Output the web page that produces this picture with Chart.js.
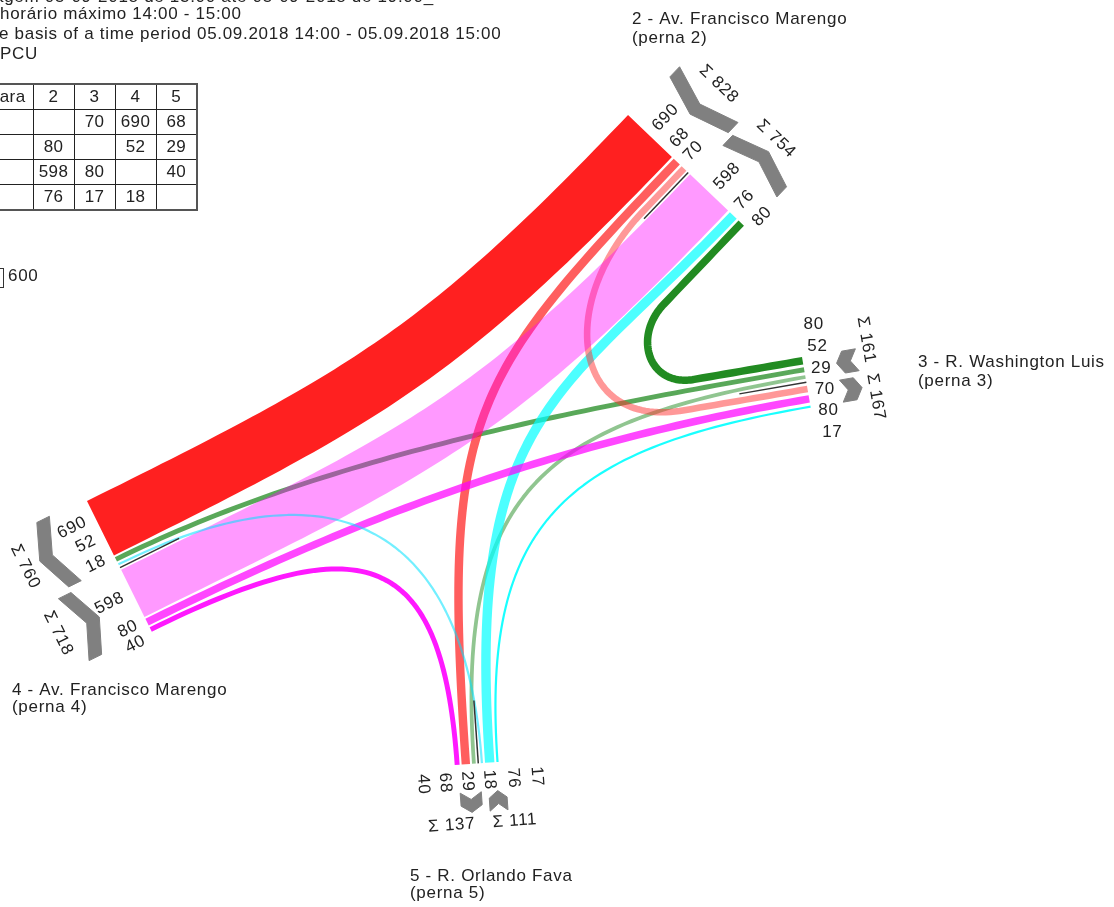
<!DOCTYPE html>
<html lang="pt">
<head>
<meta charset="utf-8">
<title>Fluxos de tráfego</title>
<script src="https://cdn.jsdelivr.net/npm/chart.js@4.4.1/dist/chart.umd.min.js"></script>
<style>
html,body{margin:0;padding:0;background:#fff;overflow:hidden}
#wrap{position:relative;width:1114px;height:907px;overflow:hidden;background:#fff}
#c{position:absolute;left:0;top:0}
.hl{position:absolute;font:17px "Liberation Sans",Arial,sans-serif;letter-spacing:0.7px;color:#222;white-space:nowrap;line-height:20px;height:20px}
#tbl{position:absolute;left:-49px;top:83px;width:245px;border-collapse:collapse;table-layout:fixed;font:17px "Liberation Sans",Arial,sans-serif;letter-spacing:0.4px;color:#222;border:2px solid #555}
#tbl td{border:1px solid #222;height:24px;padding:0;text-align:center;line-height:24px;white-space:nowrap;overflow:hidden}
#tbl td.lbl{text-align:left;padding-left:4px}
#tbl tr.h td.lbl{text-align:right;padding-right:7px;padding-left:0}
</style>
</head>
<body>
<div id="wrap">
<canvas id="c" width="1114" height="907"></canvas>
<div id="hdr"></div>
<table id="tbl"></table>
</div>
<script>
// ================= DATA =================
const legIds = ['2', '3', '4', '5'];
const legNames = ['2 - Av. Francisco Marengo', '3 - R. Washington Luis', '4 - Av. Francisco Marengo', '5 - R. Orlando Fava'];
const legSubs = ['(perna 2)', '(perna 3)', '(perna 4)', '(perna 5)'];
const tableHeader = ['De/Para', '2', '3', '4', '5'];
// volumes (PCU) from a leg (row) to legs 2,3,4,5 (columns)
const fromLeg2 = [null, 70, 690, 68];
const fromLeg3 = [80, null, 52, 29];
const fromLeg4 = [598, 80, null, 40];
const fromLeg5 = [76, 17, 18, null];
const scaleBarValue = 600;
const headerLines = [
  'agem 05-09-2018 de 13:00 até 05-09-2018 de 19:00_',
  'horário máximo 14:00 - 15:00',
  'e basis of a time period 05.09.2018 14:00 - 05.09.2018 15:00',
  'PCU'
];

const MATRIX = {'2': fromLeg2, '3': fromLeg3, '4': fromLeg4, '5': fromLeg5};
const vol = (o, d) => MATRIX[o][legIds.indexOf(d)];
const outSum = id => MATRIX[id].reduce((s, v) => s + (v || 0), 0);
const inSum = id => legIds.reduce((s, o) => s + (vol(o, id) || 0), 0);

// ================= LAYOUT =================
const norm = a => { const l = Math.hypot(a[0], a[1]); return [a[0] / l, a[1] / l]; };
const ang = a => Math.atan2(a[1], a[0]);
const LEG = {
  '2': {P: [628, 115], u: norm([0.723, 0.690]), d: norm([0.690, -0.723]), k: 0.088, gap: 2.5, med: 5, medLen: 64,
        groupTypes: ['from', 'to'], labelU: [29, 53, 72, 114, 143, 167], labelD: 9, labelFlip: false, labelAlign: 'left',
        sigmaU: [44.4, 123.6], sigmaD: 85, chev: {near: 50.5, far: 63.5, w: 14, shift: [4, 4]}, name: [632, 24, 43]},
  '3': {P: [802, 357], u: norm([0.17, 0.985]), d: norm([0.985, -0.17]), k: 0.1, gap: 3, med: 7, medLen: 68,
        groupTypes: ['from', 'to'], labelU: [-31.8, -9.4, 12.9, 34, 55.5, 77.8], labelD: 7, labelRot0: true, labelAlign: 'left',
        sigmaU: [-6, 51.8], sigmaD: 66, chev: {near: 40, far: 47, w: 14, shift: [1, 0]}, name: [918, 367, 386]},
  '4': {P: [87, 501], u: norm([0.444, 0.896]), d: norm([-0.896, 0.444]), k: 0.088, gap: 2, med: 5, medLen: 66,
        groupTypes: ['to', 'from'], labelU: [17.5, 38, 60.5, 101.6, 133, 150], labelD: 10, labelFlip: true, labelAlign: 'right',
        sigmaU: [31.4, 105.8], sigmaD: 84.5, chev: {near: 47.5, far: 62, w: 14, shift: [-3, -2]}, name: [12, 695, 712]},
  '5': {P: [454.7, 765], u: norm([0.9975, -0.07]), d: norm([0.07, 0.9975]), k: 0.16, gap: 2, med: 5, medLen: 63,
        groupTypes: ['to', 'from'], labelU: [-32.7, -10.7, 11.5, 33.6, 57.6, 81.1], labelD: 7, labelFlip: false, labelAlign: 'left',
        sigmaU: [-7.2, 56.1], sigmaD: 60, chev: {near: 35, far: 42, w: 13, shift: [3.5, 6]}, name: [410, 881, 898]}
};
const SLOTS = {
  '2': [['2','4'], ['2','5'], ['2','3'], null, ['4','2'], ['5','2'], ['3','2']],
  '3': [['3','2'], ['3','4'], ['3','5'], null, ['2','3'], ['4','3'], ['5','3']],
  '4': [['2','4'], ['3','4'], ['5','4'], null, ['4','2'], ['4','3'], ['4','5']],
  '5': [['4','5'], ['2','5'], ['3','5'], null, ['5','4'], ['5','2'], ['5','3']]
};
// colour, drawing order (lower = on top), path shape [straight0, ctrl0, ctrl1, straight1]
const FLOW = {
  '2-4': {c: '#ff2020', o: 12, s: [0, 300, 300, 0]},
  '2-5': {c: 'rgba(255,40,40,0.75)', o: 7, s: [0, 300, 350, 0]},
  '2-3': {c: 'rgba(255,50,50,0.5)', o: 3, s: [60, 125, 115, 125]},
  '3-2': {c: 'rgb(34,139,34)', o: 11, s: [110, 46, 46, 112]},
  '3-4': {c: 'rgba(34,139,34,0.75)', o: 10, s: [0, 230, 230, 0]},
  '3-5': {c: 'rgba(34,139,34,0.5)', o: 9, s: [0, 260, 280, 0]},
  '4-2': {c: 'rgba(255,0,255,0.4)', o: 2, s: [0, 320, 320, 0]},
  '4-3': {c: 'rgba(255,0,255,0.72)', o: 4, s: [0, 250, 250, 0]},
  '4-5': {c: 'rgba(255,0,255,0.9)', o: 5, s: [0, 240, 215, 0]},
  '5-2': {c: 'rgba(0,255,255,0.7)', o: 8, s: [0, 350, 250, 0]},
  '5-3': {c: 'rgba(0,255,255,0.9)', o: 6, s: [0, 240, 250, 0]},
  '5-4': {c: 'rgba(0,225,255,0.55)', o: 1, s: [0, 225, 255, 0]}
};
const width = (o, d) => vol(o, d) * (LEG[o].k + LEG[d].k) / 2;
const legPt = (id, u, d) => { const L = LEG[id]; return [L.P[0] + L.u[0] * u + L.d[0] * d, L.P[1] + L.u[1] * u + L.d[1] * d]; };

// band positions at each leg end
const POS = {};
for (const id of legIds) {
  const L = LEG[id]; let u = 0, firstIn = true;
  const info = {c: {}, groups: [[0, 0], [0, 0]], median: 0, order: []};
  for (const s of SLOTS[id]) {
    if (s === null) {
      info.groups[0][1] = u; info.median = u + L.med / 2; u += L.med; info.groups[1][0] = u; firstIn = true; continue;
    }
    if (!firstIn) u += L.gap;
    firstIn = false;
    const w = width(s[0], s[1]);
    info.c[s[0] + '-' + s[1]] = u + w / 2; info.order.push(s);
    u += w;
  }
  info.groups[1][1] = u;
  POS[id] = info;
}

function flowPoints(o, dst) {
  const key = o + '-' + dst, sh = FLOW[key].s, Lo = LEG[o], Ld = LEG[dst];
  const P0 = legPt(o, POS[o].c[key], 0), P3 = legPt(dst, POS[dst].c[key], 0);
  const [s0, a, b, s1] = sh;
  const Q0 = [P0[0] - Lo.d[0] * s0, P0[1] - Lo.d[1] * s0];
  const Q1 = [Q0[0] - Lo.d[0] * a, Q0[1] - Lo.d[1] * a];
  const Q3 = [P3[0] - Ld.d[0] * s1, P3[1] - Ld.d[1] * s1];
  const Q2 = [Q3[0] - Ld.d[0] * b, Q3[1] - Ld.d[1] * b];
  const pts = [P0];
  const lin = (A, B, n) => { for (let i = 1; i <= n; i++) { const t = i / n; pts.push([A[0] + (B[0] - A[0]) * t, A[1] + (B[1] - A[1]) * t]); } };
  if (s0 > 0) lin(P0, Q0, Math.max(2, Math.round(s0 / 8)));
  const N = 70;
  for (let i = 1; i <= N; i++) {
    const t = i / N, m = 1 - t;
    pts.push([m*m*m*Q0[0] + 3*m*m*t*Q1[0] + 3*m*t*t*Q2[0] + t*t*t*Q3[0],
              m*m*m*Q0[1] + 3*m*m*t*Q1[1] + 3*m*t*t*Q2[1] + t*t*t*Q3[1]]);
  }
  if (s1 > 0) lin(Q3, P3, Math.max(2, Math.round(s1 / 8)));
  return pts;
}

// solid stroke drawn as one path (a single dash longer than any path)
const common = {pointRadius: 0, pointHoverRadius: 0, tension: 0, fill: false, clip: false, spanGaps: true, borderDash: [20000]};
const toXY = pts => pts.map(p => ({x: p[0], y: p[1]}));
const datasets = [];
for (const o of legIds) for (const dst of legIds) {
  const v = vol(o, dst); if (!v) continue;
  const key = o + '-' + dst, st = FLOW[key];
  datasets.push(Object.assign({}, common, {label: key, data: toXY(flowPoints(o, dst)), borderColor: st.c, borderWidth: width(o, dst),
    borderCapStyle: 'butt', borderJoinStyle: 'round', order: st.o}));
}
for (const id of legIds) {
  const L = LEG[id], m = POS[id].median;
  datasets.push(Object.assign({}, common, {label: 'median ' + id, data: toXY([legPt(id, m, 0), legPt(id, m, -L.medLen)]),
    borderColor: '#333', borderWidth: 1.5, borderCapStyle: 'butt', order: 0}));
  POS[id].groups.forEach((g, gi) => {
    const c = L.chev, type = L.groupTypes[gi];
    const u0 = g[0] + c.shift[gi], u1 = g[1] + c.shift[gi], um = (u0 + u1) / 2, h = c.w / 2;
    const dEnd = type === 'from' ? c.far : c.near, dTip = type === 'from' ? c.near : c.far;
    const poly = [[u0, dEnd - h], [um, dTip - h], [u1, dEnd - h], [u1, dEnd + h], [um, dTip + h], [u0, dEnd + h], [u0, dEnd - h]]
      .map(q => legPt(id, q[0], q[1]));
    datasets.push(Object.assign({}, common, {label: 'sum ' + id + gi, data: toXY(poly), fill: 'shape', backgroundColor: '#808080',
      borderColor: '#808080', borderWidth: 1, borderDash: [], borderJoinStyle: 'miter', order: 0}));
  });
}

// ================= TEXT =================
const FONT = '17px "Liberation Sans", Arial, sans-serif';
const textPlugin = {
  id: 'flowTexts',
  afterDatasetsDraw(chart) {
    const ctx = chart.ctx, xs = chart.scales.x, ys = chart.scales.y;
    const px = p => [xs.getPixelForValue(p[0]), ys.getPixelForValue(p[1])];
    ctx.save();
    ctx.font = FONT; ctx.fillStyle = '#222';
    if ('letterSpacing' in ctx) ctx.letterSpacing = '0.7px';
    const draw = (text, p, rot, align) => {
      const q = px(p); ctx.save(); ctx.translate(q[0], q[1]); ctx.rotate(rot);
      ctx.textAlign = align; ctx.textBaseline = 'middle'; ctx.fillText(text, 0, 0); ctx.restore();
    };
    legIds.forEach((id, li) => {
      const L = LEG[id], info = POS[id];
      const rot = L.labelRot0 ? 0 : (L.labelFlip ? ang([-L.d[0], -L.d[1]]) : ang(L.d));
      info.order.forEach((s, i) => draw(String(vol(s[0], s[1])), legPt(id, L.labelU[i], L.labelD), rot, L.labelAlign));
      L.groupTypes.forEach((t, gi) => {
        const val = t === 'from' ? outSum(id) : inSum(id);
        draw('Σ ' + val, legPt(id, L.sigmaU[gi], L.sigmaD), ang(L.u), 'center');
      });
      ctx.textAlign = 'left'; ctx.textBaseline = 'alphabetic';
      const n1 = px([L.name[0], L.name[1]]), n2 = px([L.name[0], L.name[2]]);
      ctx.fillText(legNames[li], n1[0], n1[1]);
      ctx.fillText(legSubs[li], n2[0], n2[1]);
    });
    const a = px([3 - scaleBarValue * LEG['2'].k, 268]), b = px([3, 287]);
    ctx.strokeStyle = '#333'; ctx.lineWidth = 1;
    ctx.strokeRect(a[0] + 0.5, a[1] + 0.5, b[0] - a[0], b[1] - a[1]);
    ctx.textAlign = 'left'; ctx.textBaseline = 'alphabetic';
    const t = px([8, 281]); ctx.fillText(String(scaleBarValue), t[0], t[1]);
    ctx.restore();
  }
};

new Chart(document.getElementById('c'), {
  type: 'line',
  data: {datasets},
  options: {
    responsive: false, animation: false, devicePixelRatio: 1, events: [],
    layout: {padding: 0},
    plugins: {legend: {display: false}, tooltip: {enabled: false}, title: {display: false}},
    scales: {
      x: {type: 'linear', min: 0, max: 1114, display: false},
      y: {type: 'linear', min: 0, max: 907, reverse: true, display: false}
    }
  },
  plugins: [textPlugin]
});

// header lines and origin/destination table
const hdr = document.getElementById('hdr');
const hdrPos = [[-6, -12.9], [0, 4.1], [-1, 24.1], [0, 44.1]];
headerLines.forEach((s, i) => {
  const el = document.createElement('div'); el.className = 'hl'; el.textContent = s;
  el.style.left = hdrPos[i][0] + 'px'; el.style.top = hdrPos[i][1] + 'px'; hdr.appendChild(el);
});
let html = '<colgroup><col style="width:81px">' + '<col style="width:41px">'.repeat(4) + '</colgroup>';
html += '<tr class="h">' + tableHeader.map((h, i) => `<td${i === 0 ? ' class="lbl"' : ''}>${h}</td>`).join('') + '</tr>';
legIds.forEach(id => {
  html += `<tr><td class="lbl">${id}</td>` + MATRIX[id].map(v => `<td>${v == null ? '' : v}</td>`).join('') + '</tr>';
});
document.getElementById('tbl').innerHTML = html;
</script>
</body>
</html>
